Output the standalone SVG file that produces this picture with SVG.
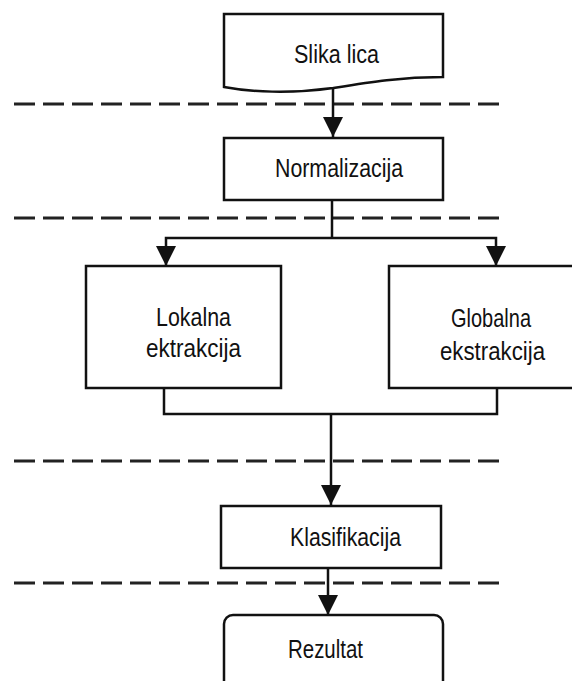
<svg xmlns="http://www.w3.org/2000/svg" width="572" height="681" viewBox="0 0 572 681">
<style>
.box{fill:#fff;stroke:#111;stroke-width:2.5}
.ln{fill:none;stroke:#111;stroke-width:2.5}
.dash{fill:none;stroke:#222;stroke-width:2.8;stroke-dasharray:21 8}
.t{font-family:"Liberation Sans",Arial,sans-serif;font-size:26.5px;fill:#111}
</style>
<defs>
<marker id="ah" markerUnits="userSpaceOnUse" markerWidth="20" markerHeight="20" viewBox="0 0 20 20" refX="20" refY="10" orient="auto">
<path d="M0,0 L20,10 L0,20 Z" fill="#111"/>
</marker>
</defs>
<rect width="572" height="681" fill="#fff"/>
<g id="separators">
<line class="dash" x1="14" y1="104" x2="506" y2="104"/>
<line class="dash" x1="14" y1="218" x2="506" y2="218"/>
<line class="dash" x1="14" y1="461" x2="506" y2="461"/>
<line class="dash" x1="14" y1="583" x2="506" y2="583"/>
</g>
<g id="connectors">
<line class="ln" x1="333" y1="88" x2="333" y2="137" marker-end="url(#ah)"/>
<polyline class="ln" points="332,200 332,238"/>
<polyline class="ln" points="332,238 166,238 166,266" marker-end="url(#ah)"/>
<polyline class="ln" points="332,238 496,238 496,266" marker-end="url(#ah)"/>
<polyline class="ln" points="164,388 164,414 497,414 497,388"/>
<line class="ln" x1="331" y1="414" x2="331" y2="505" marker-end="url(#ah)"/>
<line class="ln" x1="328" y1="568" x2="328" y2="615" marker-end="url(#ah)"/>
</g>
<g id="slika-lica">
<path class="box" d="M224,14 H443 V77 C400,77 370,82 333,88 C290,94 250,92 224,87 Z"/>
<text class="t" x="294" y="63" textLength="85" lengthAdjust="spacingAndGlyphs">Slika lica</text>
</g>
<g id="normalizacija">
<rect class="box" x="224" y="138" width="219" height="62"/>
<text class="t" x="275" y="177" textLength="128" lengthAdjust="spacingAndGlyphs">Normalizacija</text>
</g>
<g id="lokalna">
<rect class="box" x="86" y="266" width="195" height="122"/>
<text class="t" x="156" y="326" textLength="75" lengthAdjust="spacingAndGlyphs">Lokalna</text>
<text class="t" x="146" y="357" textLength="95" lengthAdjust="spacingAndGlyphs">ektrakcija</text>
</g>
<g id="globalna">
<rect class="box" x="389" y="266" width="195" height="122"/>
<text class="t" x="451" y="327" textLength="80" lengthAdjust="spacingAndGlyphs">Globalna</text>
<text class="t" x="440" y="360" textLength="105" lengthAdjust="spacingAndGlyphs">ekstrakcija</text>
</g>
<g id="klasifikacija">
<rect class="box" x="221" y="506" width="220" height="62"/>
<text class="t" x="290" y="546" textLength="111" lengthAdjust="spacingAndGlyphs">Klasifikacija</text>
</g>
<g id="rezultat">
<rect class="box" x="224" y="615" width="219" height="90" rx="9"/>
<text class="t" x="288" y="658" textLength="75" lengthAdjust="spacingAndGlyphs">Rezultat</text>
</g>
</svg>
